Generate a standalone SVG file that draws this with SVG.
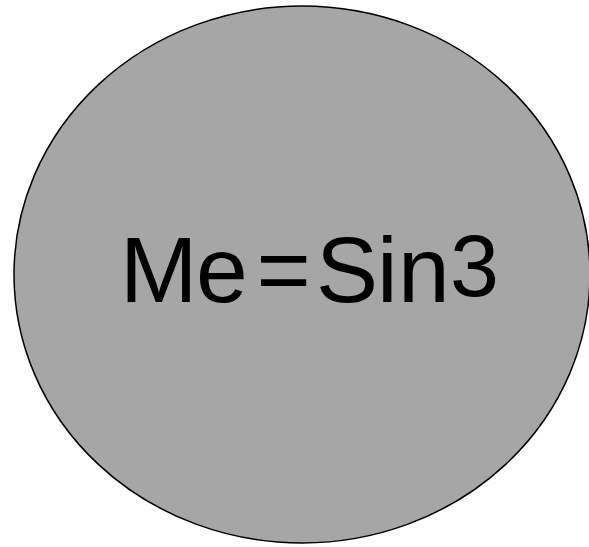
<svg xmlns="http://www.w3.org/2000/svg" width="589" height="547" viewBox="0 0 589 547">
<style>
.node{fill:#a6a6a6;stroke:#000;stroke-width:1.5}
.lbl{font-family:"Liberation Sans",Arial,sans-serif;font-size:93px;fill:#000}
</style>
<rect width="589" height="547" fill="#fff"/>
<g id="node1">
<ellipse class="node" cx="302" cy="274.5" rx="288" ry="268.5"/>
<text class="lbl" x="120 196 256.5 316 377 398" y="302">Me=Sin<tspan x="450" y="296" style="font-size:88px">3</tspan></text>
</g>
<g id="connectors"/>
</svg>
